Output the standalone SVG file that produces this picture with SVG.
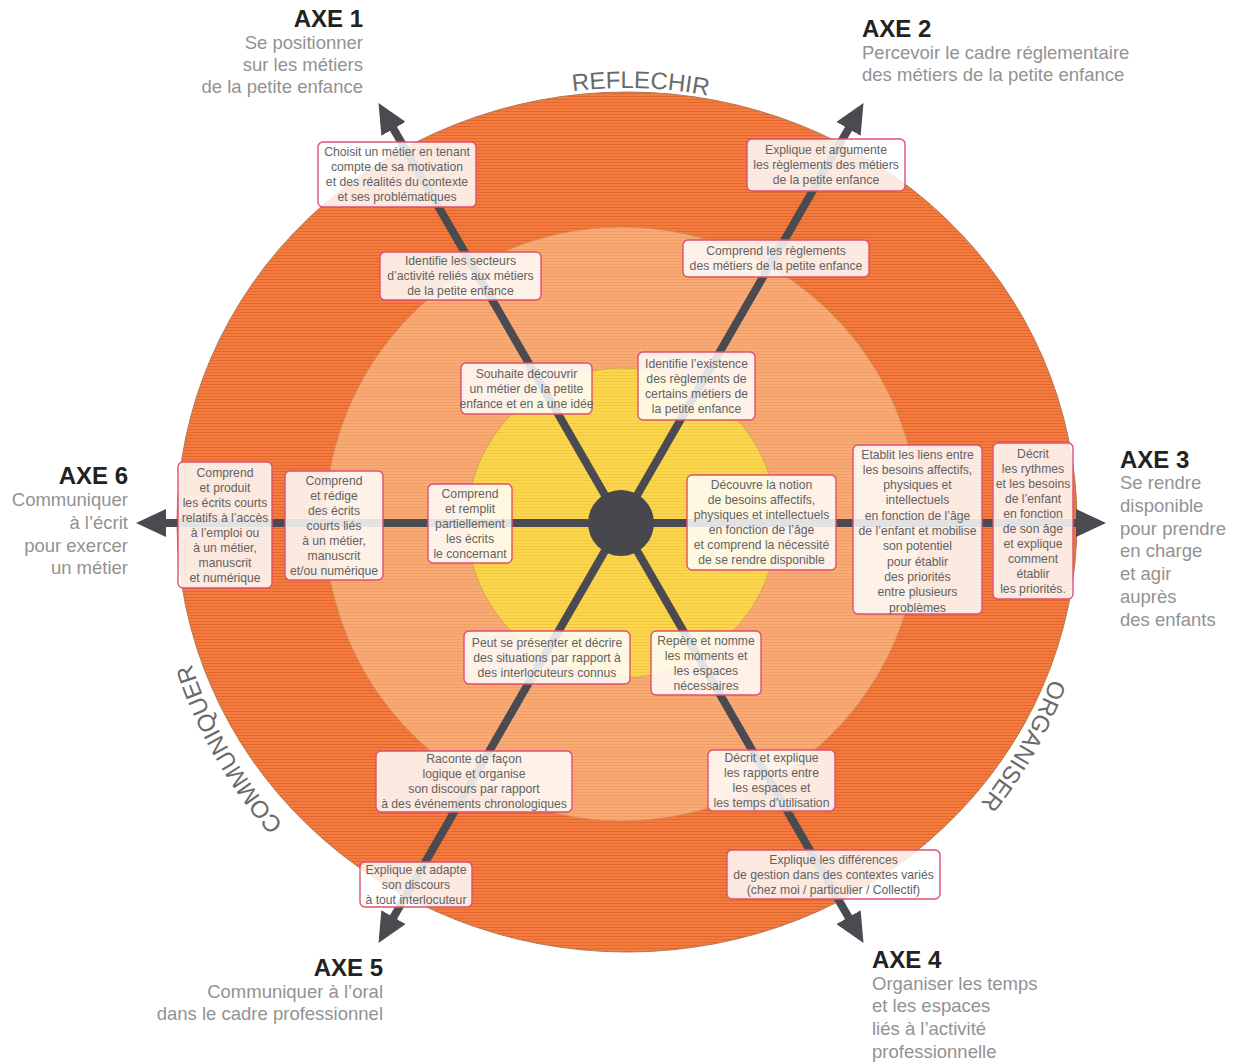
<svg xmlns="http://www.w3.org/2000/svg" width="1246" height="1064" viewBox="0 0 1246 1064">
<defs>
<style>
.bt{font-family:"Liberation Sans",Arial,sans-serif;font-size:12.2px;fill:#626262;text-anchor:middle}
.box{fill:#ffffff;fill-opacity:0.84;stroke:#e0506f;stroke-width:1.4}
.axe{font-family:"Liberation Sans",Arial,sans-serif;font-size:24px;font-weight:bold;fill:#222}
.sub{font-family:"Liberation Sans",Arial,sans-serif;font-size:18.5px;fill:#929292}
.arc{font-family:"Liberation Sans",Arial,sans-serif;font-size:24px;fill:#6a6a6a;text-anchor:middle}
.spoke{stroke:#4a4a50;stroke-width:8;fill:none;marker-end:url(#arr)}
</style>
<pattern id="pOut" width="4" height="3" patternUnits="userSpaceOnUse"><rect width="4" height="3" fill="#f37c3e"/><rect width="4" height="1" fill="#e3672f"/></pattern>
<pattern id="pMid" width="4" height="3" patternUnits="userSpaceOnUse"><rect width="4" height="3" fill="#f8ab75"/><rect width="4" height="1" fill="#f29d66"/></pattern>
<pattern id="pIn" width="4" height="3" patternUnits="userSpaceOnUse"><rect width="4" height="3" fill="#fbd64f"/><rect width="4" height="1" fill="#f4c83f"/></pattern>
<marker id="arr" markerUnits="userSpaceOnUse" markerWidth="30" markerHeight="28" viewBox="0 0 30 28" refX="1" refY="14" orient="auto"><path d="M0,0 L30,14 L0,28 z" fill="#4a4a50"/></marker>
<path id="refArc" d="M193,522 A434,434 0 0 1 1061,522"/>
<path id="orgArc" d="M1079,522 A452,452 0 0 1 627,974"/>
<path id="comArc" d="M627,980 A458,458 0 0 1 169,522"/>
</defs>
<rect width="1246" height="1064" fill="#ffffff"/>
<g id="rings">
<ellipse cx="627" cy="522" rx="450" ry="430" fill="url(#pOut)" stroke="#b07a55" stroke-width="1"/>
<circle cx="622" cy="524" r="297" fill="url(#pMid)" stroke="#c98a5a" stroke-width="0.8"/>
<circle cx="622" cy="523" r="155" fill="url(#pIn)" stroke="#c9a24a" stroke-width="0.8"/>
</g>
<g id="arc-labels">
<text class="arc" fill="#5a5a5a"><textPath href="#refArc" startOffset="51%">REFLECHIR</textPath></text>
<text class="arc"><textPath href="#orgArc" startOffset="32.7%">ORGANISER</textPath></text>
<text class="arc"><textPath href="#comArc" startOffset="67%">COMMUNIQUER</textPath></text>
</g>
<g id="connectors">
<line class="spoke" x1="621" y1="523" x2="1077" y2="523"/>
<line class="spoke" x1="621" y1="523" x2="849" y2="128"/>
<line class="spoke" x1="621" y1="523" x2="393" y2="128"/>
<line class="spoke" x1="621" y1="523" x2="165" y2="523"/>
<line class="spoke" x1="621" y1="523" x2="393" y2="918"/>
<line class="spoke" x1="621" y1="523" x2="849" y2="918"/>
<circle cx="621" cy="523" r="33" fill="#47474d"/>
</g>
<g id="n1"><rect class="box" x="318" y="142" width="158" height="65" rx="5"/><text class="bt"><tspan x="397" y="156">Choisit un métier en tenant</tspan><tspan x="397" dy="15">compte de sa motivation</tspan><tspan x="397" dy="15">et des réalités du contexte</tspan><tspan x="397" dy="15">et ses problématiques</tspan></text></g>
<g id="n2"><rect class="box" x="380" y="252" width="161" height="48" rx="5"/><text class="bt"><tspan x="460.5" y="265">Identifie les secteurs</tspan><tspan x="460.5" dy="15">d’activité reliés aux métiers</tspan><tspan x="460.5" dy="15">de la petite enfance</tspan></text></g>
<g id="n3"><rect class="box" x="747" y="139" width="158" height="52" rx="5"/><text class="bt"><tspan x="826" y="154">Explique et argumente</tspan><tspan x="826" dy="15">les règlements des métiers</tspan><tspan x="826" dy="15">de la petite enfance</tspan></text></g>
<g id="n4"><rect class="box" x="683" y="240" width="186" height="37" rx="5"/><text class="bt"><tspan x="776" y="255">Comprend les règlements</tspan><tspan x="776" dy="15">des métiers de la petite enfance</tspan></text></g>
<g id="n5"><rect class="box" x="461" y="363" width="131" height="51" rx="5"/><text class="bt"><tspan x="526.5" y="377.5">Souhaite découvrir</tspan><tspan x="526.5" dy="15">un métier de la petite</tspan><tspan x="526.5" dy="15">enfance et en a une idée</tspan></text></g>
<g id="n6"><rect class="box" x="638" y="352" width="117" height="68" rx="5"/><text class="bt"><tspan x="696.5" y="367.5">Identifie l’existence</tspan><tspan x="696.5" dy="15">des règlements de</tspan><tspan x="696.5" dy="15">certains métiers de</tspan><tspan x="696.5" dy="15">la petite enfance</tspan></text></g>
<g id="n7"><rect class="box" x="178" y="462" width="94" height="126" rx="5"/><text class="bt"><tspan x="225" y="476.5">Comprend</tspan><tspan x="225" dy="15">et produit</tspan><tspan x="225" dy="15">les écrits courts</tspan><tspan x="225" dy="15">relatifs à l’accès</tspan><tspan x="225" dy="15">à l’emploi ou</tspan><tspan x="225" dy="15">à un métier,</tspan><tspan x="225" dy="15">manuscrit</tspan><tspan x="225" dy="15">et numérique</tspan></text></g>
<g id="n8"><rect class="box" x="285" y="471" width="98" height="109" rx="5"/><text class="bt"><tspan x="334" y="484.5">Comprend</tspan><tspan x="334" dy="15">et rédige</tspan><tspan x="334" dy="15">des écrits</tspan><tspan x="334" dy="15">courts liés</tspan><tspan x="334" dy="15">à un métier,</tspan><tspan x="334" dy="15">manuscrit</tspan><tspan x="334" dy="15">et/ou numérique</tspan></text></g>
<g id="n9"><rect class="box" x="428" y="484" width="84" height="79" rx="5"/><text class="bt"><tspan x="470" y="497.5">Comprend</tspan><tspan x="470" dy="15">et remplit</tspan><tspan x="470" dy="15">partiellement</tspan><tspan x="470" dy="15">les écrits</tspan><tspan x="470" dy="15">le concernant</tspan></text></g>
<g id="n10"><rect class="box" x="687" y="475" width="149" height="95" rx="5"/><text class="bt"><tspan x="761.5" y="489">Découvre la notion</tspan><tspan x="761.5" dy="15">de besoins affectifs,</tspan><tspan x="761.5" dy="15">physiques et intellectuels</tspan><tspan x="761.5" dy="15">en fonction de l’âge</tspan><tspan x="761.5" dy="15">et comprend la nécessité</tspan><tspan x="761.5" dy="15">de se rendre disponible</tspan></text></g>
<g id="n11"><rect class="box" x="853" y="445" width="129" height="169" rx="5"/><text class="bt"><tspan x="917.5" y="458.5">Etablit les liens entre</tspan><tspan x="917.5" dy="15.3">les besoins affectifs,</tspan><tspan x="917.5" dy="15.3">physiques et</tspan><tspan x="917.5" dy="15.3">intellectuels</tspan><tspan x="917.5" dy="15.3">en fonction de l’âge</tspan><tspan x="917.5" dy="15.3">de l’enfant et mobilise</tspan><tspan x="917.5" dy="15.3">son potentiel</tspan><tspan x="917.5" dy="15.3">pour établir</tspan><tspan x="917.5" dy="15.3">des priorités</tspan><tspan x="917.5" dy="15.3">entre plusieurs</tspan><tspan x="917.5" dy="15.3">problèmes</tspan></text></g>
<g id="n12"><rect class="box" x="993" y="443" width="80" height="156" rx="5"/><text class="bt"><tspan x="1033" y="457.5">Décrit</tspan><tspan x="1033" dy="15.1">les rythmes</tspan><tspan x="1033" dy="15.1">et les besoins</tspan><tspan x="1033" dy="15.1">de l’enfant</tspan><tspan x="1033" dy="15.1">en fonction</tspan><tspan x="1033" dy="15.1">de son âge</tspan><tspan x="1033" dy="15.1">et explique</tspan><tspan x="1033" dy="15.1">comment</tspan><tspan x="1033" dy="15.1">établir</tspan><tspan x="1033" dy="15.1">les priorités.</tspan></text></g>
<g id="n13"><rect class="box" x="464" y="631" width="166" height="53" rx="5"/><text class="bt"><tspan x="547" y="646.5">Peut se présenter et décrire</tspan><tspan x="547" dy="15">des situations par rapport à</tspan><tspan x="547" dy="15">des interlocuteurs connus</tspan></text></g>
<g id="n14"><rect class="box" x="651" y="631" width="110" height="64" rx="5"/><text class="bt"><tspan x="706" y="644.5">Repère et nomme</tspan><tspan x="706" dy="15">les moments et</tspan><tspan x="706" dy="15">les espaces</tspan><tspan x="706" dy="15">nécessaires</tspan></text></g>
<g id="n15"><rect class="box" x="376" y="751" width="196" height="61" rx="5"/><text class="bt"><tspan x="474" y="763">Raconte de façon</tspan><tspan x="474" dy="15">logique et organise</tspan><tspan x="474" dy="15">son discours par rapport</tspan><tspan x="474" dy="15">à des événements chronologiques</tspan></text></g>
<g id="n16"><rect class="box" x="708" y="750" width="127" height="61" rx="5"/><text class="bt"><tspan x="771.5" y="762">Décrit et explique</tspan><tspan x="771.5" dy="15">les rapports entre</tspan><tspan x="771.5" dy="15">les espaces et</tspan><tspan x="771.5" dy="15">les temps d’utilisation</tspan></text></g>
<g id="n17"><rect class="box" x="360" y="862" width="112" height="45" rx="5"/><text class="bt"><tspan x="416" y="873.5">Explique et adapte</tspan><tspan x="416" dy="15">son discours</tspan><tspan x="416" dy="15">à tout interlocuteur</tspan></text></g>
<g id="n18"><rect class="box" x="727" y="850" width="213" height="49" rx="5"/><text class="bt"><tspan x="833.5" y="863.5">Explique les différences</tspan><tspan x="833.5" dy="15">de gestion dans des contextes variés</tspan><tspan x="833.5" dy="15">(chez moi / particulier / Collectif)</tspan></text></g>
<g id="axe1" text-anchor="end"><text class="axe" x="363" y="27">AXE 1</text><text class="sub"><tspan x="363" y="49">Se positionner</tspan><tspan x="363" y="71">sur les métiers</tspan><tspan x="363" y="93">de la petite enfance</tspan></text></g>
<g id="axe2"><text class="axe" x="862" y="37">AXE 2</text><text class="sub"><tspan x="862" y="59">Percevoir le cadre réglementaire</tspan><tspan x="862" y="81">des métiers de la petite enfance</tspan></text></g>
<g id="axe3"><text class="axe" x="1120" y="468">AXE 3</text><text class="sub"><tspan x="1120" y="489">Se rendre</tspan><tspan x="1120" y="512">disponible</tspan><tspan x="1120" y="535">pour prendre</tspan><tspan x="1120" y="557">en charge</tspan><tspan x="1120" y="580">et agir</tspan><tspan x="1120" y="603">auprès</tspan><tspan x="1120" y="626">des enfants</tspan></text></g>
<g id="axe4"><text class="axe" x="872" y="968">AXE 4</text><text class="sub"><tspan x="872" y="990">Organiser les temps</tspan><tspan x="872" y="1012">et les espaces</tspan><tspan x="872" y="1035">liés à l’activité</tspan><tspan x="872" y="1058">professionnelle</tspan></text></g>
<g id="axe5" text-anchor="end"><text class="axe" x="383" y="976">AXE 5</text><text class="sub"><tspan x="383" y="998">Communiquer à l’oral</tspan><tspan x="383" y="1020">dans le cadre professionnel</tspan></text></g>
<g id="axe6" text-anchor="end"><text class="axe" x="128" y="484">AXE 6</text><text class="sub"><tspan x="128" y="506">Communiquer</tspan><tspan x="128" y="529">à l’écrit</tspan><tspan x="128" y="552">pour exercer</tspan><tspan x="128" y="574">un métier</tspan></text></g>
</svg>
